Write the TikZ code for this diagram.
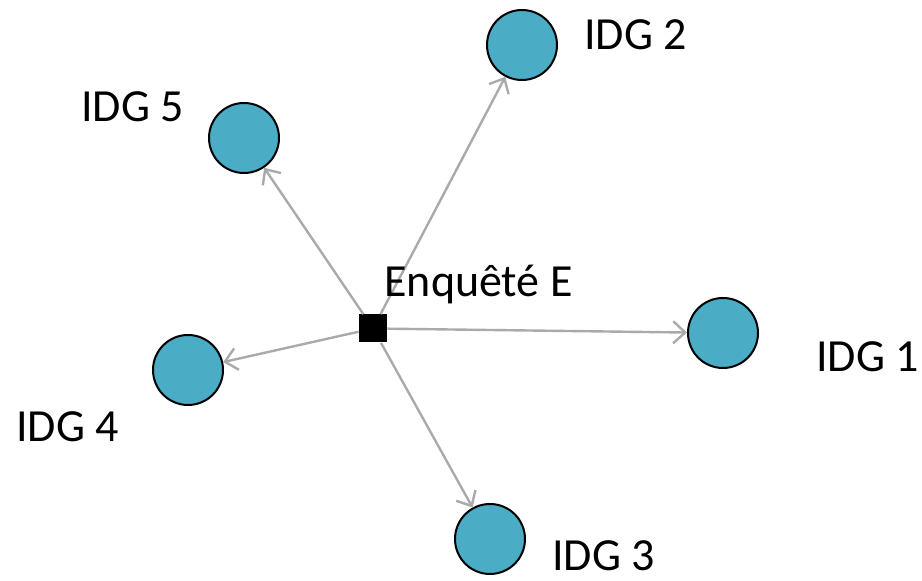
\documentclass[tikz,border=0pt]{standalone}
\usepackage{fontspec}
\setmainfont{Carlito}
\usetikzlibrary{arrows.meta}
\definecolor{idgblue}{RGB}{75,172,198}
\definecolor{linkgray}{RGB}{170,170,170}

\begin{document}
\begin{tikzpicture}[x=0.5pt,y=-0.5pt,
  idg/.style={circle,draw=black,line width=1pt,fill=idgblue,minimum size=35pt,inner sep=0pt},
  lbl/.style={anchor=base west,inner sep=0pt,font=\fontsize{23}{27}\selectfont},
  link/.style={-{Straight Barb[length=6pt,width=11pt]},draw=linkgray,line width=1.2pt}]
\useasboundingbox (0,0) rectangle (922,581);
% the five IDG
\node[idg] (g1) at (723,333) {};
\node[idg] (g2) at (522,45) {};
\node[idg] (g3) at (490,539) {};
\node[idg] (g4) at (188,370) {};
\node[idg] (g5) at (244,138) {};
% enquete
\node[fill=black,minimum size=14pt,inner sep=0pt] (e) at (373,328.5) {};
\draw[link] (e) -- (g1);
\draw[link] (e) -- (g2);
\draw[link] (e) -- (g3);
\draw[link] (e) -- (g4);
\draw[link] (e) -- (g5);
% labels
\node[lbl] (le) at (384,297) {Enquêté E};
\node[lbl] (l1) at (816,372) {IDG 1};
\node[lbl] (l2) at (584,50) {IDG 2};
\node[lbl] (l3) at (552,571) {IDG 3};
\node[lbl] (l4) at (16,442) {IDG 4};
\node[lbl] (l5) at (81,122) {IDG 5};
\end{tikzpicture}
\end{document}
